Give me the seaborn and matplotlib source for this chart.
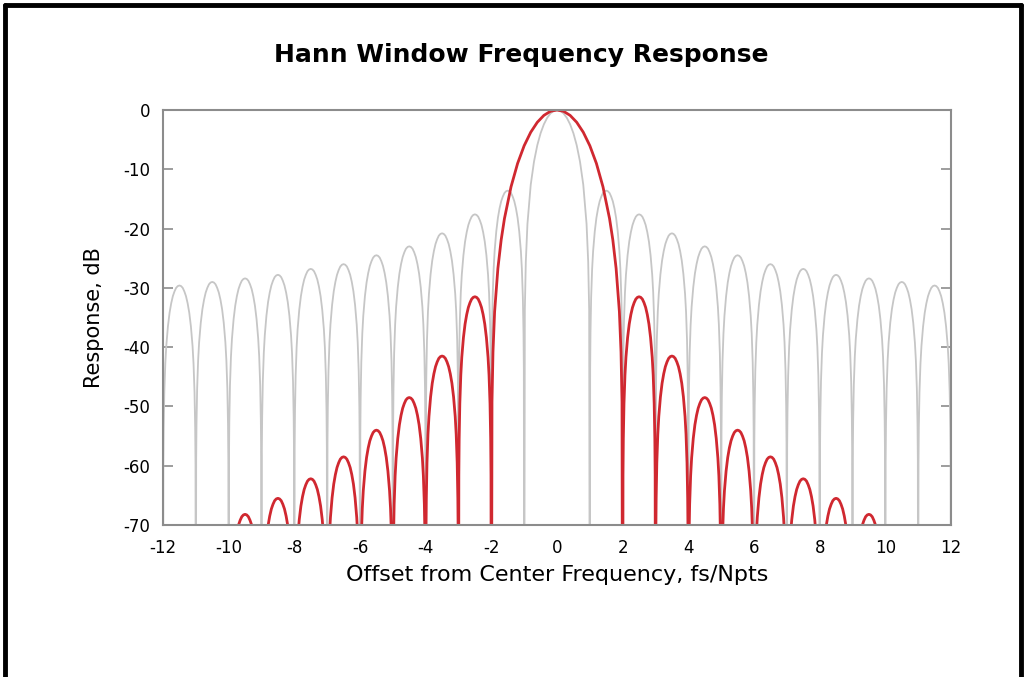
import numpy as np
import matplotlib
matplotlib.use("Agg")
import matplotlib.pyplot as plt
import seaborn as sns
from matplotlib.lines import Line2D

# valores (dB)
x_ticks = [-12, -10, -8, -6, -4, -2, 0, 2, 4, 6, 8, 10, 12]
y_ticks = [0, -10, -20, -30, -40, -50, -60, -70]

# lobo principal da janela retangular (cinza), lado positivo
rect_main_x = [0.0, 0.1, 0.2, 0.3, 0.4, 0.5, 0.6, 0.7, 0.8, 0.9, 0.95, 0.98, 1.0]
rect_main_db = [0.0, -0.14, -0.58, -1.33, -2.42, -3.92, -5.94, -8.69, -12.6, -19.2, -25.6, -33.8, -110.0]
# picos dos lobos laterais (lobos entre k e k+1, k = 1..11)
rect_lobe_start = [1, 2, 3, 4, 5, 6, 7, 8, 9, 10, 11]
rect_lobe_peak = [-13.6, -17.6, -20.8, -23.0, -24.5, -26.0, -26.8, -27.8, -28.4, -29.0, -29.6]

# lobo principal da janela Hann (vermelho), lado positivo
hann_main_x = [0.0, 0.2, 0.4, 0.6, 0.8, 1.0, 1.2, 1.4, 1.6, 1.7, 1.8, 1.9, 1.95, 1.98, 2.0]
hann_main_db = [0.0, -0.22, -0.91, -2.07, -3.75, -6.02, -9.01, -12.95, -18.3, -21.9, -26.7, -34.0, -40.8, -49.2, -110.0]
hann_lobe_start = [2, 3, 4, 5, 6, 7, 8, 9, 10]
hann_lobe_peak = [-31.5, -41.5, -48.5, -54.0, -58.5, -62.2, -65.5, -68.2, -71.0]

# forma de um lobo lateral (posição dentro do lobo, dB abaixo do pico)
lobe_pos = [0.0, 0.01, 0.02, 0.04, 0.07, 0.1, 0.15, 0.2, 0.25, 0.3, 0.35, 0.4, 0.45, 0.5,
            0.55, 0.6, 0.65, 0.7, 0.75, 0.8, 0.85, 0.9, 0.93, 0.96, 0.98, 0.99, 1.0]
lobe_rel = [-80.0, -30.1, -24.0, -18.0, -13.2, -10.2, -6.9, -4.6, -3.0, -1.8, -1.0, -0.4, -0.1, 0.0,
            -0.1, -0.4, -1.0, -1.8, -3.0, -4.6, -6.9, -10.2, -13.2, -18.0, -24.0, -30.1, -80.0]


def build_curve(main_x, main_db, starts, peaks, x_max=12):
    xs = list(main_x)
    ys = list(main_db)
    for k, p in zip(starts, peaks):
        for f, r in zip(lobe_pos, lobe_rel):
            xv = k + f
            if xv <= x_max:
                xs.append(xv)
                ys.append(p + r)
    xs = np.array(xs)
    ys = np.array(ys)
    # espelha para o lado negativo
    x_full = np.concatenate([-xs[::-1], xs[1:]])
    y_full = np.concatenate([ys[::-1], ys[1:]])
    return x_full, y_full


rect_x, rect_y = build_curve(rect_main_x, rect_main_db, rect_lobe_start, rect_lobe_peak)
hann_x, hann_y = build_curve(hann_main_x, hann_main_db, hann_lobe_start, hann_lobe_peak)

sns.set_theme(style="white")
plt.rcParams['font.family'] = ['DejaVu Sans']
plt.rcParams['text.color'] = 'black'
plt.rcParams['axes.labelcolor'] = 'black'
plt.rcParams['xtick.color'] = 'black'
plt.rcParams['ytick.color'] = 'black'

fig = plt.figure(figsize=(10.26, 6.77), dpi=100)
ax = fig.add_axes([163 / 1026, 1 - 525 / 677, (951 - 163) / 1026, (525 - 110) / 677])

sns.lineplot(x=rect_x, y=rect_y, sort=False, estimator=None, color='#c6c6c6', lw=1.3, ax=ax)
sns.lineplot(x=hann_x, y=hann_y, sort=False, estimator=None, color='#d02830', lw=2.0, ax=ax)

ax.set_xlim(-12, 12)
ax.set_ylim(-70, 0)
ax.set_xticks(x_ticks)
ax.set_yticks(y_ticks)
ax.set_xticklabels([str(t) for t in x_ticks])
ax.set_yticklabels([str(t) for t in y_ticks])
ax.tick_params(axis='y', direction='in', length=7, width=1.2, color='#8c8c8c',
               labelcolor='black', labelsize=12, pad=9, right=True, left=True)
ax.tick_params(axis='x', direction='in', length=0, labelcolor='black', labelsize=12, pad=10)
for s in ax.spines.values():
    s.set_visible(True)
    s.set_color('#8c8c8c')
    s.set_linewidth(1.5)

ax.set_xlabel('Offset from Center Frequency, fs/Npts', fontsize=16, labelpad=6, color='black')
ax.set_ylabel('Response, dB', fontsize=15, labelpad=14, color='black')
fig.text(521 / 1026, 1 - 55 / 677, 'Hann Window Frequency Response',
         ha='center', va='center', fontsize=18, fontweight='bold', color='black')

# moldura preta
for xs_, ys_ in [([5 / 1026, 5 / 1026], [0, 1 - 5 / 677]),
                 ([5 / 1026, 1021 / 1026], [1 - 5 / 677, 1 - 5 / 677]),
                 ([1021 / 1026, 1021 / 1026], [1 - 5 / 677, 0])]:
    fig.add_artist(Line2D(xs_, ys_, transform=fig.transFigure, color='black', lw=3.5))

plt.savefig('out.png', dpi=100)
plt.close()
